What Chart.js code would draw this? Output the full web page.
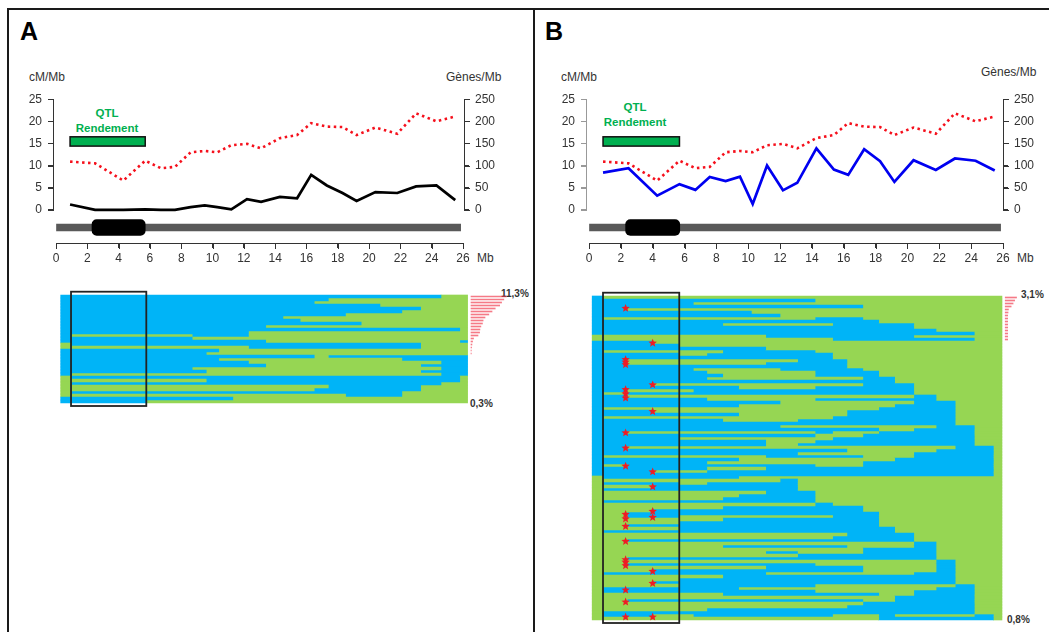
<!DOCTYPE html>
<html>
<head>
<meta charset="utf-8">
<script src="https://cdn.jsdelivr.net/npm/chart.js@4"></script>
<style>
body { margin: 0; background: #fff; font-family: "Liberation Sans", Arial, sans-serif; color: #333; }
#page { position: relative; width: 1049px; height: 632px; overflow: hidden; }
canvas { position: absolute; }
.frame { position: absolute; background: #1a1a1a; }
.axis { position: absolute; }
.t { position: absolute; white-space: nowrap; font-size: 12px; transform: translateY(-50%); }
.c { transform: translate(-50%, -50%); }
.letter { font-size: 25px; font-weight: bold; color: #000; }
.qtl { color: #00b050; font-weight: bold; font-size: 11.5px; }
.pct { font-size: 10px; font-weight: bold; }
</style>
</head>
<body>
<div id="page">
  <div class="frame" style="left:7px;top:8px;width:1042px;height:2px"></div>
  <div class="frame" style="left:7px;top:8px;width:2px;height:624px"></div>
  <div class="frame" style="left:533px;top:8px;width:2px;height:624px"></div>

  <div class="t letter" style="left:20px;top:31px">A</div>
  <div class="t letter" style="left:545px;top:31px">B</div>

  <div class="t" style="left:29px;top:77px">cM/Mb</div>
  <div class="t" style="left:446px;top:77px">Gènes/Mb</div>
  <div class="t" style="left:561px;top:77px">cM/Mb</div>
  <div class="t" style="left:981px;top:72px">Gènes/Mb</div>
  <div class="t" style="left:477px;top:258px">Mb</div>
  <div class="t" style="left:1017px;top:258px">Mb</div>

  <div class="t c qtl" style="left:107px;top:113px">QTL</div>
  <div class="t c qtl" style="left:107px;top:128px">Rendement</div>
  <div class="t c qtl" style="left:635px;top:107px">QTL</div>
  <div class="t c qtl" style="left:635px;top:122px">Rendement</div>

  <div class="t pct" style="left:501px;top:293px">11,3%</div>
  <div class="t pct" style="left:470px;top:403px">0,3%</div>
  <div class="t pct" style="left:1021px;top:294px">3,1%</div>
  <div class="t pct" style="left:1007px;top:619px">0,8%</div>

  <canvas id="lineA" width="495" height="137" style="left:15px;top:86px"></canvas>
  <canvas id="chrA" width="495" height="60" style="left:15px;top:212px"></canvas>
  <canvas id="mosA" width="515" height="120" style="left:15px;top:289px"></canvas>
  <canvas id="lineB" width="501" height="137" style="left:548px;top:86px"></canvas>
  <canvas id="chrB" width="501" height="60" style="left:548px;top:212px"></canvas>
  <canvas id="mosB" width="501" height="336" style="left:548px;top:290px"></canvas>
</div>
<script>
// positions along the chromosome, Mb
var mb = [0.9,2.5,4.3,5.7,6.7,7.6,8.6,9.5,10.3,11.2,12.2,13.1,14.3,15.4,16.3,17.3,18.3,19.2,20.4,21.8,23,24.3,25.5];
var cmA = [1.2,0,0,0.1,0,0,0.6,1,0.6,0.1,2.4,1.8,2.9,2.6,7.9,5.5,3.8,2,4,3.8,5.3,5.5,2.2];
var cmB = [8.4,9.4,3.2,5.8,4.5,7.4,6.5,7.5,1.3,10,4.4,6.1,13.9,9.1,7.9,13.7,11,6.3,11.2,9,11.6,11.1,8.9];
var genes = [109,105,66,111,94,97,130,133,130,146,149,139,162,169,196,188,187,169,186,172,218,200,211];

var qtl = [0.9, 5.7];
var chromosome = [0, 25.85];
var centromere = [2.3, 5.7];

// each row: first colour (0 blue, 1 green) then the Mb where the colour flips
var rowsA = [
  [0,24.6],[0,17.4],[0,16.5],[0,20.7],[0,23.3],[0,22.1],[0,18.5],[0,14.5],[0,15.6],[0,19.5],
  [0,13.4],[0,25.8],[0,12.3],[0,1,8.7,12.3],[0,8.7],[0,13.4,25.8],[1,1,23.3],[1,12.3,23.3],[0,10.4],[0,9.6],
  [0,16.5,17.4],[0,10.4,22.1],[0,12.3,24.6],[0,13.4,23.3],[0,8.7,24.6],[0,9.6,23.3],[0,1,24.6],[1,1,25.8],[1,9.6,25.8],[1,1,24.6],
  [1,17.4,23.3],[1,16.5,23.3],[1,1,22.1],[1,18.5,22.1],[0,11.3],[0,5.8]
];
var rowsB = [
  [0,0.9],[0,14.2],[0,6.55],[0,17.2],[0,2.4],[0,10.2],[0,12],[0,0.9,14.2,17.2],[0,18.2],[0,8.4,15.3,20.4],
  [0,20.4],[0,21.8],[0,24.2],[1,11.1,20.4],[1,15.3,24.2],[0,4],[0,5.65],[0,11.1],[0,0.9,8.4,14.2],[0,5.65,7.4,15.3],
  [0,15.3],[0,2.4,13.1,16.2],[0,2.4,11.1,16.2],[0,16.2],[0,6.55,12,17.2],[0,7.4,14.2,18.2],[0,8.4,14.2,18.2],[0,7.4,17.2,19.2],[0,19.2],[0,4,17.2,20.4],
  [0,9.4,14.2,20.4],[0,2.4,6.55,20.4],[0,0.9,2.4,20.4],[0,2.4,20.4,21.8],[0,7.4,14.2,21.8],[0,12,20.4,23],[0,9.4,19.2,23],[0,0.9,18.2,23],[0,4,16.2,23],[0,9.4,16.2,23],
  [0,0.9,15.3,23],[0,8.4,13.1,23],[0,23],[0,12,21.8,24.2],[0,18.2,20.4,24.2],[0,2.4,14.2,15.3,18.2,24.2],[0,14.2,17.2,24.2],[0,5.65,15.3,24.2],[0,11.1,14.2,24.2],[0,11.1,13.1,24.2],
  [0,2.4,23,25.4],[0,16.2,21.8,25.4],[0,13.1,20.4,25.4],[0,0.9,11.1,17.2,20.4,25.4],[0,9.4,19.2,25.4],[0,7.4,17.2,25.4],[0,0.9,2.4,14.2,17.2,25.4],[0,7.4,11.1,25.4],[0,4,7.4,25.4],[0,25.4],
  [1,0.9,9.4],[1,12,13.1],[1,0.9,5.65,7.4,13.1],[1,4,13.1],[1,0.9,13.1],[1,11.1,14.2],[1,9.4,14.2],[1,8.4,14.2],[1,0.9,14.2],[1,14.2,15.3],
  [1,8.4,17.2],[1,4,17.2],[1,2.4,18.2],[1,2.4,5.65,15.3,18.2],[1,8.4,18.2],[1,5.65,18.2],[1,2.4,18.2],[1,5.65,19.2],[1,0.9,19.2],[1,16.2,20.4],
  [1,15.3,20.4],[1,2.4,20.4],[1,20.4,21.8],[1,8.4,16.2,20.4,21.8],[1,17.2,21.8],[1,11.1,13.1,17.2,21.8],[1,13.1,21.8],[1,2.4,21.8],[1,21.8,23],[1,2.4,14.2,21.8,23],
  [1,11.1,17.2,21.8,23],[1,4,17.2,21.8,23],[1,0.9,11.1,20.4,23],[1,8.4,23],[1,5.65,23],[1,4,23],[1,5.65,14.2,23,24.2],[1,0.9,9.4,21.8,24.2],[1,0.9,14.2,20.4,24.2],[1,8.4,18.2,20.4,24.2],
  [1,19.2,24.2],[1,2.4,17.2,19.2,24.2],[1,17.2,24.2],[1,16.2,24.2],[1,7.4,24.2],[1,0.9,24.2],[1,0.9,4,6.55,15.3,18.2,19.2,24.2,25.4],[1,18.2,25.4]
];

// haplotype frequency, %, from the top row down
var freqA = [11.3,10.5,9.8,9.2,7.8,6.8,5.8,4.6,4,3.8,3.3,3,2.9,2.4,1,0.7,0.5,0.4,0.3,0.3];
var freqB = [3.1,2.6,2.2,1.7,1,0.9,0.8,0.8,0.8,0.8,0.8,0.8,0.8,0.8,0.8];

// markers in panel B, row number
var starLeft = [4.1,21.2,22,22.9,31.2,32.6,34,45.6,50.7,56.7,72.8,74.3,76.8,81.8,87.9,88.7,89.9,98,102,107];
var starRight = [15.7,29.6,38.5,58.6,63.6,71.8,73.8,91.8,95.8,107];
var starLeftMb = 2.3;
var starRightMb = 4;

var BLUE = '#00b4f7';
var GREEN = '#96d653';
var FONT = { family: '"Liberation Sans", Arial, sans-serif', size: 12 };

var qtlBox = {
  id: 'qtlBox',
  afterDatasetsDraw: function (chart) {
    var c = chart.ctx, x = chart.scales.x, y = chart.scales.y;
    var l = x.getPixelForValue(qtl[0]), r = x.getPixelForValue(qtl[1]);
    var t = y.getPixelForValue(16.5), b = y.getPixelForValue(14.4);
    c.save();
    c.fillStyle = '#00b050';
    c.strokeStyle = '#111';
    c.lineWidth = 1.5;
    c.fillRect(l, t, r - l, b - t);
    c.strokeRect(l, t, r - l, b - t);
    c.restore();
  }
};

// axis lines and tick marks, placed from the chart's own scales
function axisMarks(chart) {
  var cv = chart.canvas, page = document.getElementById('page');
  var add = function (x, y, w, h, color) {
    var d = document.createElement('div');
    d.className = 'axis';
    d.style.cssText = 'left:' + x + 'px;top:' + y + 'px;width:' + w + 'px;height:' + h + 'px;background:' + color;
    page.appendChild(d);
  };
  Object.keys(chart.scales).forEach(function (id) {
    var s = chart.scales[id];
    if (!s.options.display) return;
    var color = s.options.border.color;
    if (s.isHorizontal()) {
      var ay = cv.offsetTop + Math.round(s.top);
      add(cv.offsetLeft + s.left, ay, s.right - s.left, 1, color);
      s.ticks.forEach(function (t) {
        add(cv.offsetLeft + Math.round(s.getPixelForValue(t.value)), ay, 1, 6, color);
      });
    } else {
      var isLeft = s.position === 'left';
      var ax = cv.offsetLeft + Math.round(isLeft ? s.right : s.left);
      add(ax, cv.offsetTop + s.top, 1, s.bottom - s.top, color);
      s.ticks.forEach(function (t) {
        add(isLeft ? ax - 5 : ax, cv.offsetTop + Math.round(s.getPixelForValue(t.value)), 6, 1, color);
      });
    }
  });
}

function points(vals) {
  return mb.map(function (m, i) { return { x: m, y: vals[i] }; });
}

function lineChart(id, vals, color, xMin, xMax, leftColor) {
  return new Chart(document.getElementById(id), {
    type: 'scatter',
    data: {
      datasets: [
        { data: points(vals), showLine: true, borderColor: color, borderWidth: 2.7, pointRadius: 0, yAxisID: 'y', clip: false },
        { data: points(genes), showLine: true, borderColor: '#f5101c', borderWidth: 2.6, borderDash: [2.5, 3.5], pointRadius: 0, yAxisID: 'y2', clip: false }
      ]
    },
    options: {
      responsive: false,
      animation: false,
      layout: { autoPadding: false },
      plugins: { legend: { display: false }, tooltip: { enabled: false } },
      scales: {
        x: { type: 'linear', display: false, min: xMin, max: xMax },
        y: {
          position: 'left', min: 0, max: 25,
          ticks: { stepSize: 5, color: '#333', font: FONT, padding: 6 },
          grid: { drawOnChartArea: false, tickLength: 5, tickColor: leftColor },
          border: { color: leftColor, width: 1 },
          afterFit: function (s) { s.width = 38; }
        },
        y2: {
          position: 'right', min: 0, max: 250,
          ticks: { stepSize: 50, color: '#333', font: FONT, padding: 6 },
          grid: { drawOnChartArea: false, tickLength: 5, tickColor: '#333' },
          border: { color: '#333', width: 1 },
          afterFit: function (s) { s.width = 46; }
        }
      }
    },
    plugins: [qtlBox]
  });
}

function chrChart(id, padLeft, padRight) {
  return new Chart(document.getElementById(id), {
    type: 'bar',
    data: {
      labels: ['chr'],
      datasets: [
        { data: [centromere], backgroundColor: '#000', barThickness: 16, borderRadius: 5, borderSkipped: false },
        { data: [chromosome], backgroundColor: '#595959', barThickness: 7 }
      ]
    },
    options: {
      responsive: false,
      animation: false,
      indexAxis: 'y',
      datasets: { bar: { grouped: false } },
      layout: { autoPadding: false, padding: { left: padLeft, right: padRight } },
      plugins: { legend: { display: false }, tooltip: { enabled: false } },
      scales: {
        x: {
          type: 'linear', min: 0, max: 26,
          ticks: { stepSize: 2, color: '#333', font: FONT, padding: 3, maxRotation: 0, autoSkip: false },
          grid: { drawOnChartArea: false, tickLength: 5, tickColor: '#333' },
          border: { color: '#333', width: 1 },
          afterFit: function (s) { s.height = 29; }
        },
        y: { display: false }
      }
    }
  });
}

// one bar dataset per segment number, so a row can flip colour several times
function segments(rows, start, end) {
  var sets = [];
  rows.forEach(function (row, r) {
    var cuts = [start].concat(row.slice(1), [end]);
    for (var i = 0; i < cuts.length - 1; i++) {
      if (!sets[i]) sets[i] = { data: [], backgroundColor: [], barPercentage: 1, categoryPercentage: 1, xAxisID: 'x', yAxisID: 'y' };
      sets[i].data[r + 1] = [cuts[i], cuts[i + 1]];
      sets[i].backgroundColor[r + 1] = (row[0] + i) % 2 ? GREEN : BLUE;
    }
  });
  sets.forEach(function (s) {
    for (var k = 0; k < rows.length + 2; k++) {
      if (s.data[k] === undefined) { s.data[k] = null; s.backgroundColor[k] = BLUE; }
    }
  });
  return sets;
}

function drawStar(c, px, py) {
  c.beginPath();
  for (var i = 0; i < 10; i++) {
    var r = i % 2 ? 1.9 : 4.4;
    var a = -Math.PI / 2 + i * Math.PI / 5;
    c.lineTo(px + r * Math.cos(a), py + r * Math.sin(a));
  }
  c.closePath();
  c.fill();
}

function mosaic(id, rows, freq, opt) {
  var labels = [];
  for (var i = 0; i < rows.length + 2; i++) labels.push(String(i));
  var n = rows.length;
  var freqData = labels.map(function (l, k) {
    return freq[k - 1] !== undefined ? [0, freq[k - 1]] : null;
  });
  var sets = segments(rows, opt.start, opt.end);
  sets.push({
    data: freqData, xAxisID: 'xFreq', yAxisID: 'y', barPercentage: 0.55, categoryPercentage: 1,
    backgroundColor: 'rgba(240,50,70,0.65)', clip: false
  });
  // QTL window and markers, rows measured from the top of the first row
  var overlay = {
    id: 'overlay',
    afterDatasetsDraw: function (chart) {
      var c = chart.ctx, x = chart.scales.x, y = chart.scales.y;
      var rowPx = function (v) { return y.getPixelForValue(v + 0.5); };
      c.save();
      c.strokeStyle = '#222';
      c.lineWidth = 1.8;
      c.strokeRect(x.getPixelForValue(opt.box[0]), rowPx(-1.1), x.getPixelForValue(opt.box[1]) - x.getPixelForValue(opt.box[0]), rowPx(n + 1) - rowPx(-1.1));
      c.fillStyle = '#ee1c25';
      (opt.stars || []).forEach(function (g) {
        g.rows.forEach(function (r) { drawStar(c, x.getPixelForValue(g.mb), rowPx(r)); });
      });
      c.restore();
    }
  };
  return new Chart(document.getElementById(id), {
    type: 'bar',
    data: { labels: labels, datasets: sets },
    options: {
      responsive: false,
      animation: false,
      indexAxis: 'y',
      datasets: { bar: { grouped: false } },
      layout: { autoPadding: false, padding: { left: 41, top: 3, bottom: 3 } },
      plugins: { legend: { display: false }, tooltip: { enabled: false } },
      scales: {
        x: { type: 'linear', display: false, min: 0, max: opt.xMax },
        xFreq: { type: 'linear', axis: 'x', display: false, min: opt.fMin, max: opt.fMax },
        y: { type: 'category', display: false, offset: true }
      }
    },
    plugins: [overlay]
  });
}

axisMarks(lineChart('lineA', cmA, '#000', -0.19, 26.06, '#333'));
axisMarks(lineChart('lineB', cmB, '#0000f0', -0.17, 26.02, '#999'));
axisMarks(chrChart('chrA', 41, 47));
axisMarks(chrChart('chrB', 41, 46));

mosaic('mosA', rowsA, freqA, {
  box: [0.96, 5.77], start: 0.3, end: 26.3,
  xMax: 474 / 15.65, fMin: -130, fMax: 18.6
});
mosaic('mosB', rowsB, freqB, {
  box: [0.88, 5.67], start: 0.2, end: 25.94,
  xMax: 460 / 15.92, fMin: -107.5, fMax: 11.4,
  stars: [{ mb: starLeftMb, rows: starLeft }, { mb: starRightMb, rows: starRight }]
});
</script>
</body>
</html>
